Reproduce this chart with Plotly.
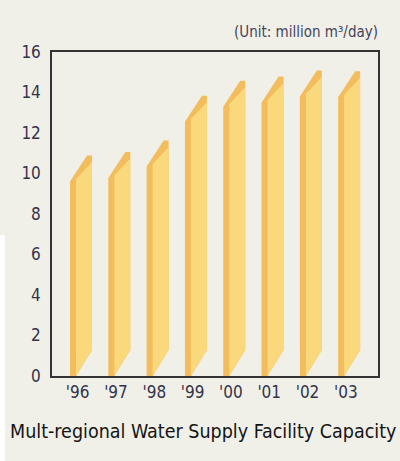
import plotly.graph_objects as go

years = ["'96", "'97", "'98", "'99", "'00", "'01", "'02", "'03"]
capacity = [9.6, 9.78, 10.34, 12.56, 13.3, 13.5, 13.8, 13.76]
y_ticks = [0, 2, 4, 6, 8, 10, 12, 14, 16]

BG = "#f0f0e9"
DARK = "#f3bc5c"
LIGHT = "#f9d97b"
FONT = "DejaVu Sans Condensed, Liberation Sans Narrow, sans-serif"

W = 0.574      # bar face width (x units)
S = 1.284      # shear rise (y units)
DS = 0.157     # dark left strip width
CAP = 0.13     # flat cap at top right
T = 0.32       # top band thickness

fig = go.Figure()
for i, v in enumerate(capacity):
    L = i
    ox = [L, L + DS, L + W, L + W, L + W - CAP, L, L]
    oy = [0, 0, S, v + S, v + S, v, 0]
    fig.add_trace(go.Scatter(x=ox, y=oy, fill="toself", fillcolor=DARK, mode="lines",
                             line=dict(width=0), hoverinfo="skip", showlegend=False))
    top_left = v + S * DS / (W - CAP) - T
    ix = [L + DS, L + W, L + W, L + DS, L + DS]
    iy = [0, S, v + S - T, top_left, 0]
    fig.add_trace(go.Scatter(x=ix, y=iy, fill="toself", fillcolor=LIGHT, mode="lines",
                             line=dict(width=0), hoverinfo="skip", showlegend=False))

fig.update_layout(
    width=400, height=461,
    margin=dict(l=52, r=22, t=52, b=85),
    paper_bgcolor=BG, plot_bgcolor=BG,
    font=dict(family=FONT, color="#33334a", size=17),
    xaxis=dict(range=[-0.47, 8.04], tickvals=[i + 0.2 for i in range(len(years))],
               ticktext=years, showgrid=False, zeroline=False, showline=True,
               linecolor="#333333", linewidth=1.5, mirror=True, ticks="",
               tickfont=dict(size=17, family=FONT, color="#33334a")),
    yaxis=dict(range=[0, 16], tickvals=y_ticks, showgrid=False, zeroline=False,
               showline=True, linecolor="#333333", linewidth=1.5, mirror=True,
               ticks="", ticklabelstandoff=6,
               tickfont=dict(size=17, family=FONT, color="#33334a")),
    shapes=[
        dict(type="rect", xref="paper", yref="paper", x0=(9 - 52) / 326, x1=(400 - 52) / 326,
             y0=(376 + 48) / 324, y1=(376 + 52) / 324, fillcolor="white", line=dict(width=0), layer="below"),
        dict(type="rect", xref="paper", yref="paper", x0=-52 / 326, x1=(5 - 52) / 326,
             y0=(376 - 461) / 324, y1=(376 - 235) / 324, fillcolor="white", line=dict(width=0), layer="below"),
    ],
    annotations=[
        dict(text="(Unit: million m³/day)", xref="paper", yref="paper", x=(380 - 52) / 326,
             y=(376 - 32) / 324, xanchor="right", yanchor="middle", showarrow=False,
             font=dict(size=15, family=FONT, color="#44445a")),
        dict(text="Mult-regional Water Supply Facility Capacity", xref="paper", yref="paper",
             x=(203 - 52) / 326, y=(376 - 432) / 324, xanchor="center", yanchor="middle",
             showarrow=False, font=dict(size=19.5, family=FONT, color="#141414")),
    ],
)

fig.write_html("out.html")
